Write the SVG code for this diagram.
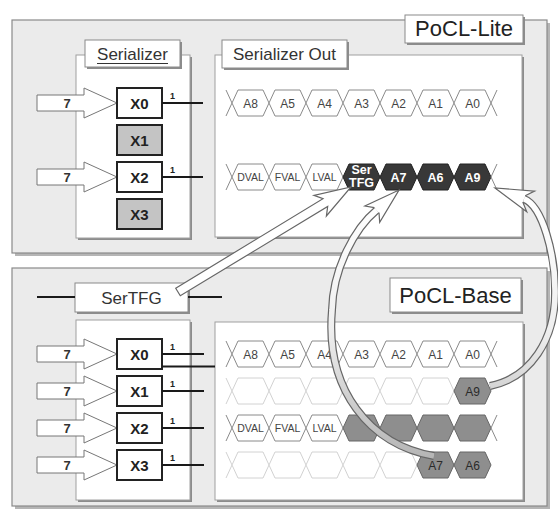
<svg xmlns="http://www.w3.org/2000/svg" width="558" height="510" viewBox="0 0 558 510">
<style>
text{font-family:"Liberation Sans",Arial,Helvetica,sans-serif}
.panel{fill:#ebebeb;stroke:#8a8a8a;stroke-width:1.2}
.pshadow{fill:#b5b5b5}
.shadow{fill:#8c8c8c}
.box{fill:#fff;stroke:#a0a0a0;stroke-width:1}
.lbl{fill:#fff;stroke:#8a8a8a;stroke-width:1}
.title{font-size:22px;fill:#222;text-anchor:middle}
.ltxt{font-size:17px;fill:#333}
.xbox{stroke:#222;stroke-width:2}
.xw{fill:#fff}
.xg{fill:#c4c4c4}
.xt{font-size:15px;font-weight:bold;fill:#222;text-anchor:middle}
.inarr{fill:#fff;stroke:#777;stroke-width:1}
.seven{font-size:13px;font-weight:bold;fill:#333;text-anchor:middle}
.one{font-size:9px;font-weight:bold;fill:#222}
.wire{stroke:#1a1a1a;stroke-width:2;fill:none}
.hw{fill:#fff;stroke:#8a8a8a;stroke-width:1}
.hd{fill:#383838;stroke:#222;stroke-width:1}
.hg{fill:#8e8e8e;stroke:#666;stroke-width:1}
.hf{fill:#fff;stroke:#d2d2d2;stroke-width:1}
.xl{fill:none;stroke:#8a8a8a;stroke-width:1}
.xf{fill:none;stroke:#d2d2d2;stroke-width:1}
.ht{font-size:12px;fill:#444;text-anchor:middle}
.hts{font-size:10.5px;fill:#444;text-anchor:middle}
.htd{font-size:12.5px;font-weight:bold;fill:#fff;text-anchor:middle}
.htg{font-size:12px;fill:#2a2a2a;text-anchor:middle}
.bando{fill:none;stroke:#666;stroke-width:8}
.bandi{fill:none;stroke:url(#bandg);stroke-width:5.6}
.head{fill:#fff;stroke:#666;stroke-width:1.2;stroke-linejoin:miter}
</style>
<defs>
<polygon id="hex" points="0,0 6,-13 31,-13 37,0 31,13 6,13"/>
<path id="xs" d="M-6,-13 L0,0 L-6,13"/>
<path id="xe" d="M6,-13 L0,0 L6,13"/>
<polygon id="inarrow" points="0,-8 47,-8 47,-15 80,0 47,15 47,8 0,8"/>
<linearGradient id="bandg" gradientUnits="userSpaceOnUse" x1="0" y1="200" x2="0" y2="460">
<stop offset="0" stop-color="#ffffff"/>
<stop offset="0.5" stop-color="#efefef"/>
<stop offset="1" stop-color="#b4b4b4"/>
</linearGradient>
</defs>

<rect width="558" height="510" fill="#fff"/>

<!-- Top panel -->
<g id="pocl-lite">
<rect class="pshadow" x="15" y="23" width="535" height="233"/>
<rect class="panel" x="12" y="20" width="535" height="233"/>
</g>
<g id="pocl-lite-label">
<rect class="shadow" x="407" y="17" width="118" height="28"/>
<rect class="lbl" x="405" y="15" width="118" height="28"/>
<text class="title" x="464" y="36">PoCL-Lite</text>
</g>

<g id="serializer-top">
<rect class="shadow" x="78" y="57" width="114" height="183"/>
<rect class="box" x="76" y="55" width="114" height="183"/>
<rect class="shadow" x="87" y="42" width="95" height="27"/>
<rect class="lbl" x="85" y="40" width="95" height="27"/>
<text class="ltxt" x="132.5" y="60" text-anchor="middle">Serializer</text>
<line x1="97" y1="63.5" x2="168" y2="63.5" stroke="#333" stroke-width="1"/>
</g>

<g id="serializer-out">
<rect class="shadow" x="217" y="57" width="307" height="182"/>
<rect class="box" x="215" y="55" width="307" height="182"/>
<rect class="shadow" x="224" y="42" width="125" height="28"/>
<rect class="lbl" x="222" y="40" width="125" height="28"/>
<text class="ltxt" x="233" y="60">Serializer Out</text>
</g>

<g id="top-x0">
<use href="#inarrow" x="37" y="103" class="inarr"/>
<text class="seven" x="67" y="108">7</text>
<rect class="xbox xw" x="117" y="88" width="45" height="30"/>
<text class="xt" x="139.5" y="108.5">X0</text>
</g>
<g id="top-x1">
<rect class="xbox xg" x="117" y="125" width="45" height="30"/>
<text class="xt" x="139.5" y="145.5">X1</text>
</g>
<g id="top-x2">
<use href="#inarrow" x="37" y="177" class="inarr"/>
<text class="seven" x="67" y="182">7</text>
<rect class="xbox xw" x="117" y="162" width="45" height="30"/>
<text class="xt" x="139.5" y="182.5">X2</text>
</g>
<g id="top-x3">
<rect class="xbox xg" x="117" y="199" width="45" height="30"/>
<text class="xt" x="139.5" y="219.5">X3</text>
</g>

<g id="top-row-a">
<use href="#xs" x="232" y="103" class="xl"/>
<use href="#hex" x="232" y="103" class="hw"/>
<use href="#hex" x="269" y="103" class="hw"/>
<use href="#hex" x="306" y="103" class="hw"/>
<use href="#hex" x="343" y="103" class="hw"/>
<use href="#hex" x="380" y="103" class="hw"/>
<use href="#hex" x="417" y="103" class="hw"/>
<use href="#hex" x="454" y="103" class="hw"/>
<use href="#xe" x="491" y="103" class="xl"/>
<text class="ht" x="250.5" y="107.5">A8</text>
<text class="ht" x="287.5" y="107.5">A5</text>
<text class="ht" x="324.5" y="107.5">A4</text>
<text class="ht" x="361.5" y="107.5">A3</text>
<text class="ht" x="398.5" y="107.5">A2</text>
<text class="ht" x="435.5" y="107.5">A1</text>
<text class="ht" x="472.5" y="107.5">A0</text>
</g>

<g id="top-row-b">
<use href="#xs" x="232" y="177" class="xl"/>
<use href="#hex" x="232" y="177" class="hw"/>
<use href="#hex" x="269" y="177" class="hw"/>
<use href="#hex" x="306" y="177" class="hw"/>
<use href="#hex" x="343" y="177" class="hd"/>
<use href="#hex" x="380" y="177" class="hd"/>
<use href="#hex" x="417" y="177" class="hd"/>
<use href="#hex" x="454" y="177" class="hd"/>
<use href="#xe" x="491" y="177" class="xl"/>
<text class="hts" x="250.5" y="181">DVAL</text>
<text class="hts" x="287.5" y="181">FVAL</text>
<text class="hts" x="324.5" y="181">LVAL</text>
<text class="htd" x="361.5" y="174">Ser</text>
<text class="htd" x="361.5" y="187">TFG</text>
<text class="htd" x="398.5" y="181.5">A7</text>
<text class="htd" x="435.5" y="181.5">A6</text>
<text class="htd" x="472.5" y="181.5">A9</text>
</g>

<!-- Bottom panel -->
<g id="pocl-base">
<rect class="pshadow" x="15" y="271" width="535" height="238"/>
<rect class="panel" x="12" y="268" width="535" height="238"/>
</g>
<g id="pocl-base-label">
<rect class="shadow" x="392" y="280" width="131" height="34"/>
<rect class="lbl" x="390" y="278" width="131" height="34"/>
<text class="title" x="455.5" y="303">PoCL-Base</text>
</g>

<g id="sertfg">
<rect class="shadow" x="77" y="285" width="113" height="29"/>
<rect class="lbl" x="75" y="283" width="113" height="29"/>
<text class="ltxt" x="131.5" y="303.5" text-anchor="middle">SerTFG</text>
</g>

<g id="serializer-bottom">
<rect class="shadow" x="78" y="322" width="114" height="180"/>
<rect class="box" x="76" y="320" width="114" height="180"/>
</g>

<g id="stream-bottom">
<rect class="shadow" x="217" y="324" width="308" height="178"/>
<rect class="box" x="215" y="322" width="308" height="178"/>
</g>

<g id="bot-x0">
<use href="#inarrow" x="37" y="354" class="inarr"/>
<text class="seven" x="67" y="359">7</text>
<rect class="xbox xw" x="117" y="339" width="45" height="30"/>
<text class="xt" x="139.5" y="359.5">X0</text>
</g>
<g id="bot-x1">
<use href="#inarrow" x="37" y="391" class="inarr"/>
<text class="seven" x="67" y="396">7</text>
<rect class="xbox xw" x="117" y="376" width="45" height="30"/>
<text class="xt" x="139.5" y="396.5">X1</text>
</g>
<g id="bot-x2">
<use href="#inarrow" x="37" y="428" class="inarr"/>
<text class="seven" x="67" y="433">7</text>
<rect class="xbox xw" x="117" y="413" width="45" height="30"/>
<text class="xt" x="139.5" y="433.5">X2</text>
</g>
<g id="bot-x3">
<use href="#inarrow" x="37" y="465" class="inarr"/>
<text class="seven" x="67" y="470">7</text>
<rect class="xbox xw" x="117" y="450" width="45" height="30"/>
<text class="xt" x="139.5" y="470.5">X3</text>
</g>

<g id="bot-row-1">
<use href="#xs" x="232" y="354" class="xl"/>
<use href="#hex" x="232" y="354" class="hw"/>
<use href="#hex" x="269" y="354" class="hw"/>
<use href="#hex" x="306" y="354" class="hw"/>
<use href="#hex" x="343" y="354" class="hw"/>
<use href="#hex" x="380" y="354" class="hw"/>
<use href="#hex" x="417" y="354" class="hw"/>
<use href="#hex" x="454" y="354" class="hw"/>
<use href="#xe" x="491" y="354" class="xl"/>
<text class="ht" x="250.5" y="358.5">A8</text>
<text class="ht" x="287.5" y="358.5">A5</text>
<text class="ht" x="324.5" y="358.5">A4</text>
<text class="ht" x="361.5" y="358.5">A3</text>
<text class="ht" x="398.5" y="358.5">A2</text>
<text class="ht" x="435.5" y="358.5">A1</text>
<text class="ht" x="472.5" y="358.5">A0</text>
</g>

<g id="bot-row-2">
<use href="#xs" x="232" y="391" class="xf"/>
<use href="#hex" x="232" y="391" class="hf"/>
<use href="#hex" x="269" y="391" class="hf"/>
<use href="#hex" x="306" y="391" class="hf"/>
<use href="#hex" x="343" y="391" class="hf"/>
<use href="#hex" x="380" y="391" class="hf"/>
<use href="#hex" x="417" y="391" class="hf"/>
<use href="#hex" x="454" y="391" class="hg"/>
<text class="htg" x="472.5" y="395.5">A9</text>
</g>

<g id="bot-row-3">
<use href="#xs" x="232" y="428" class="xl"/>
<use href="#hex" x="232" y="428" class="hw"/>
<use href="#hex" x="269" y="428" class="hw"/>
<use href="#hex" x="306" y="428" class="hw"/>
<use href="#hex" x="343" y="428" class="hg"/>
<use href="#hex" x="380" y="428" class="hg"/>
<use href="#hex" x="417" y="428" class="hg"/>
<use href="#hex" x="454" y="428" class="hg"/>
<use href="#xe" x="491" y="428" class="xl"/>
<text class="hts" x="250.5" y="432">DVAL</text>
<text class="hts" x="287.5" y="432">FVAL</text>
<text class="hts" x="324.5" y="432">LVAL</text>
</g>

<g id="bot-row-4">
<use href="#xs" x="232" y="465" class="xf"/>
<use href="#hex" x="232" y="465" class="hf"/>
<use href="#hex" x="269" y="465" class="hf"/>
<use href="#hex" x="306" y="465" class="hf"/>
<use href="#hex" x="343" y="465" class="hf"/>
<use href="#hex" x="380" y="465" class="hf"/>
<use href="#hex" x="417" y="465" class="hg"/>
<use href="#hex" x="454" y="465" class="hg"/>
<text class="htg" x="435.5" y="469.5">A7</text>
<text class="htg" x="472.5" y="469.5">A6</text>
</g>

<g id="connectors">
<line class="wire" x1="162" y1="103" x2="203" y2="103"/>
<text class="one" x="170" y="99">1</text>
<line class="wire" x1="162" y1="177" x2="203" y2="177"/>
<text class="one" x="170" y="173">1</text>
<line class="wire" x1="162" y1="354" x2="204" y2="354"/>
<text class="one" x="170" y="350">1</text>
<line class="wire" x1="162" y1="366.5" x2="215" y2="366.5"/>
<line class="wire" x1="162" y1="391" x2="204" y2="391"/>
<text class="one" x="170" y="387">1</text>
<line class="wire" x1="162" y1="428" x2="204" y2="428"/>
<text class="one" x="170" y="424">1</text>
<line class="wire" x1="162" y1="465" x2="204" y2="465"/>
<text class="one" x="170" y="461">1</text>
<line class="wire" x1="37" y1="297" x2="75" y2="297"/>
<line class="wire" x1="188" y1="297" x2="222" y2="297"/>

<polygon class="head" points="175.7,288.2 323.0,198.7 314.0,195.4 351,187 326.4,216.0 327.7,206.4 180.3,295.8"/>

<path class="bando" d="M434,456 C370,445 325,390 332,310 C333,268 355,228 376.7,210.1"/>
<path class="bandi" d="M434,456 C370,445 325,390 332,310 C333,268 355,228 376.7,210.1"/>
<path class="head" d="M374.4,207.6 L364.9,206.0 L399,190 L379.7,222.4 L379.0,212.6"/>

<path class="bando" d="M490,386 C530,378 556,340 555,290 C555,255 542.7,206 524,198.9"/>
<path class="bandi" d="M490,386 C530,378 556,340 555,290 C555,255 542.7,206 524,198.9"/>
<path class="head" d="M525.2,195.7 L534.5,191.1 L495,188 L526.7,211.7 L522.8,202.1"/>
</g>
</svg>
